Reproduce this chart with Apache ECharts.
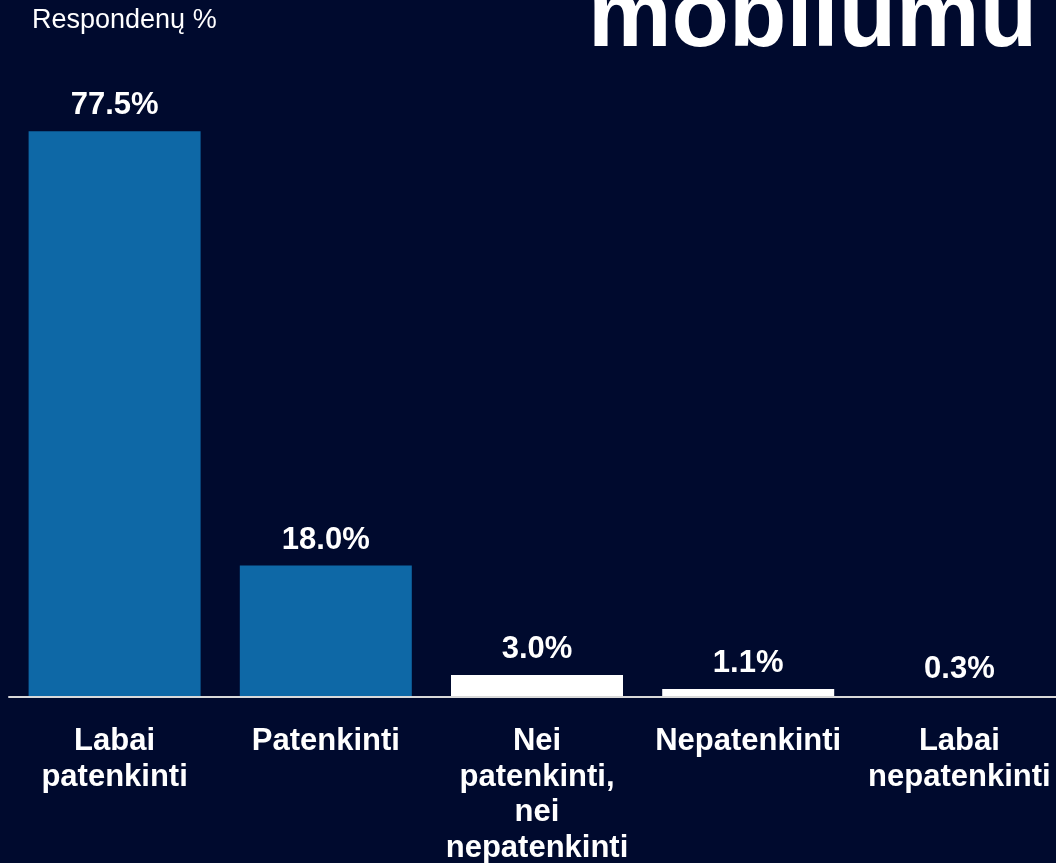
<!DOCTYPE html>
<html>
<head>
<meta charset="utf-8">
<script src="https://cdn.jsdelivr.net/npm/echarts@6/dist/echarts.min.js"></script>
<style>
html,body{margin:0;padding:0;background:#000a2e;}
#chart{width:1056px;height:863px;}
</style>
</head>
<body>
<div id="chart"></div>
<script>
const categories = ["Labai\npatenkinti", "Patenkinti", "Nei\npatenkinti,\nnei\nnepatenkinti", "Nepatenkinti", "Labai\nnepatenkinti"];
const values = [77.5, 18.0, 3.0, 1.1, 0.3];
const barColors = ["#0e68a6", "#0e68a6", "#ffffff", "#ffffff", "#000a2e"];
const titleText = "mobilumu?";
const unitLabel = "Respondenų %";

const chart = echarts.init(document.getElementById('chart'), null, {renderer: 'canvas'});
chart.setOption({
  backgroundColor: '#000a2e',
  animation: false,
  graphic: [
    {type: 'text', left: 588, top: -27, style: {text: titleText, fill: '#ffffff', font: 'bold 94px "Liberation Sans", Arial, sans-serif'}},
    {type: 'text', left: 32, top: 7, style: {text: unitLabel, fill: '#ffffff', font: '27px "Liberation Sans", Arial, sans-serif'}}
  ],
  grid: {left: 9, right: -9, top: 113, bottom: 166, outerBoundsMode: 'none', containLabel: false},
  xAxis: {
    type: 'category',
    data: categories,
    z: 5,
    axisTick: {show: false},
    axisLine: {lineStyle: {color: '#d9d9d9', width: 2}},
    axisLabel: {
      interval: 0, color: '#ffffff', fontSize: 31, fontWeight: 'bold',
      fontFamily: '"Liberation Sans", Arial, sans-serif', lineHeight: 35.5, margin: 27
    }
  },
  yAxis: {type: 'value', min: 0, max: 80, show: false, splitLine: {show: false}},
  series: [{
    type: 'bar',
    barWidth: 172,
    data: values.map((v, i) => ({value: v, itemStyle: {color: barColors[i]}})),
    label: {
      show: true, position: 'top', distance: 10, color: '#ffffff',
      fontSize: 31, fontWeight: 'bold', fontFamily: '"Liberation Sans", Arial, sans-serif',
      formatter: p => p.value.toFixed(1) + '%'
    }
  }]
});
</script>
</body>
</html>
